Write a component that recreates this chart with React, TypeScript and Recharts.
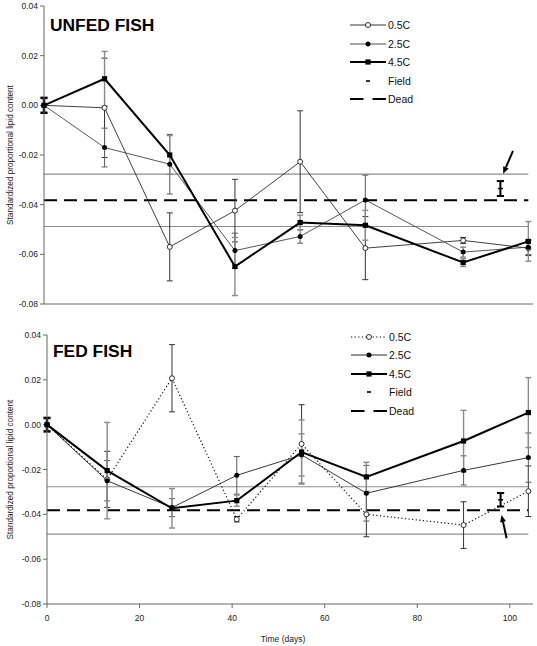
import React from 'react';
import { ComposedChart, Line, Scatter, XAxis, YAxis, ErrorBar, ReferenceLine, Legend } from 'recharts';

const days = [0, 13, 27, 41, 55, 69, 90, 104];

// unfed fish
const unfed05 = [0, -0.001, -0.057, -0.0424, -0.0227, -0.0575, -0.0544, -0.0575];
const unfed05Err = [0, 0.02, 0.0137, 0.0126, 0.0205, 0.0127, 0.0012, 0.003];
const unfed25 = [0, -0.017, -0.0237, -0.0585, -0.0528, -0.0381, -0.0591, -0.0571];
const unfed25Err = [0, 0.0078, 0.012, 0.007, 0.0027, 0.01, 0.002, 0.003];
const unfed45 = [0, 0.0107, -0.02, -0.0649, -0.0472, -0.0483, -0.0633, -0.0548];
const unfed45Err = [0, 0.011, 0.0078, 0.0117, 0.003, 0.006, 0.0016, 0.008];

// fed fish
const fed05 = [0, -0.0244, 0.0207, -0.0422, -0.0086, -0.04, -0.0448, -0.0297];
const fed05Err = [0, 0.0125, 0.015, 0.0012, 0.0175, 0.01, 0.0104, 0.0113];
const fed25 = [0, -0.025, -0.037, -0.0226, -0.0135, -0.0306, -0.0204, -0.0147];
const fed25Err = [0, 0.009, 0.004, 0.0084, 0.0094, 0.0124, 0.0065, 0.011];
const fed45 = [0, -0.0205, -0.0373, -0.0339, -0.0122, -0.0233, -0.0073, 0.0054];
const fed45Err = [0, 0.0215, 0.0088, 0.0025, 0.0143, 0.0065, 0.0137, 0.0156];

// field sample, start value, dead fish band
const fieldDay = [98];
const fieldMean = [-0.0335];
const fieldErr = [0.003];
const startErr = [0.003];
const deadMean = -0.0382;
const deadUpper = -0.0277;
const deadLower = -0.0488;
const lastDay = 104;

const unfedArrow = [{ x: 100.7, y: -0.0183 }, { x: 98.6, y: -0.0276 }];
const fedArrow = [{ x: 99.3, y: -0.0507 }, { x: 98.2, y: -0.0403 }];

const xTicks = [0, 20, 40, 60, 80, 100];
const yTicks = [-0.08, -0.06, -0.04, -0.02, 0, 0.02, 0.04];

const font = "'Liberation Sans', Arial, sans-serif";

const makeRows = (a: number[], ae: number[], b: number[], be: number[], c: number[], ce: number[]) =>
  days.map((day, i) => ({ day, c05: a[i], c05e: ae[i], c25: b[i], c25e: be[i], c45: c[i], c45e: ce[i] }));

const unfedRows = makeRows(unfed05, unfed05Err, unfed25, unfed25Err, unfed45, unfed45Err);
const fedRows = makeRows(fed05, fed05Err, fed25, fed25Err, fed45, fed45Err);
const fieldRows = fieldDay.map((day, i) => ({ day, v: fieldMean[i], e: fieldErr[i] }));
const startRows = [{ day: 0, v: 0, e: startErr[0] }];

const Square = (p: any) => {
  if (p.cx == null || p.cy == null) return <g key={p.key} />;
  return <rect key={p.key} x={p.cx - 2.6} y={p.cy - 2.6} width={5.2} height={5.2} fill="#000" />;
};

const Dash = (p: any) => (
  <line x1={p.cx - 2.5} x2={p.cx + 2.5} y1={p.cy} y2={p.cy} stroke="#000" strokeWidth={1.5} />
);

const Empty = () => <g />;

const Arrow = (p: any) => {
  const { x1, y1, x2, y2 } = p;
  const ang = Math.atan2(y2 - y1, x2 - x1);
  const L = 7;
  const W = 3;
  const bx = x2 - L * Math.cos(ang);
  const by = y2 - L * Math.sin(ang);
  const pts = `${x2},${y2} ${bx + W * Math.sin(ang)},${by - W * Math.cos(ang)} ${bx - W * Math.sin(ang)},${by + W * Math.cos(ang)}`;
  return (
    <g>
      <line x1={x1} y1={y1} x2={bx} y2={by} stroke="#000" strokeWidth={2} />
      <polygon points={pts} fill="#000" />
    </g>
  );
};

type Sample = { label: string; kind: 'open' | 'dot' | 'square' | 'field' | 'dead'; stroke?: string; width?: number; dash?: string };

const LegendBox = ({ items }: { items: Sample[] }) => (
  <div style={{ fontFamily: font, fontSize: 10.5, color: '#111' }}>
    {items.map((it) => (
      <div key={it.label} style={{ display: 'flex', alignItems: 'center', height: 18.6 }}>
        <svg width={36} height={10} style={{ display: 'block' }}>
          {it.kind === 'field' && <line x1={16} x2={20} y1={5} y2={5} stroke="#000" strokeWidth={1.6} />}
          {it.kind === 'dead' && <line x1={0} x2={36} y1={5} y2={5} stroke="#000" strokeWidth={2} strokeDasharray="13.5 9" />}
          {it.kind !== 'field' && it.kind !== 'dead' && (
            <line x1={0} x2={36} y1={5} y2={5} stroke={it.stroke} strokeWidth={it.width} strokeDasharray={it.dash} />
          )}
          {it.kind === 'open' && <circle cx={18} cy={5} r={2.5} fill="#fff" stroke="#000" strokeWidth={0.8} />}
          {it.kind === 'dot' && <circle cx={18} cy={5} r={2.5} fill="#000" />}
          {it.kind === 'square' && <rect x={15.4} y={2.4} width={5.2} height={5.2} fill="#000" />}
        </svg>
        <span style={{ marginLeft: 2 }}>{it.label}</span>
      </div>
    ))}
  </div>
);

type PanelProps = {
  title: string;
  rows: any[];
  height: number;
  top: number;
  axisWidth: number;
  xAxisHeight: number;
  showXLabels: boolean;
  dotted05: boolean;
  arrow: { x: number; y: number }[];
  legendTop: number;
  legendLeft: number;
  titleTop: number;
  titleLeft: number;
  labelDx: number;
};

const Panel = (p: PanelProps) => {
  const items: Sample[] = [
    { label: '0.5C', kind: 'open', stroke: '#000', width: p.dotted05 ? 1.2 : 0.8, dash: p.dotted05 ? '1.2 2.4' : undefined },
    { label: '2.5C', kind: 'dot', stroke: p.dotted05 ? '#111' : '#888', width: p.dotted05 ? 0.9 : 1.4 },
    { label: '4.5C', kind: 'square', stroke: '#000', width: 2 },
    { label: 'Field', kind: 'field' },
    { label: 'Dead', kind: 'dead' },
  ];
  return (
    <div style={{ position: 'absolute', left: 0, top: p.top, width: 537, height: p.height }}>
      <ComposedChart width={537} height={p.height} data={p.rows} margin={{ top: p.top === 0 ? 6 : 15, right: 4, left: 0, bottom: 0 }}>
        <XAxis
          dataKey="day"
          type="number"
          domain={[0, 105]}
          ticks={xTicks}
          height={p.xAxisHeight}
          tick={p.showXLabels ? { fontSize: 8.5, fill: '#222', fontFamily: font } : false}
          tickSize={4}
          tickMargin={7}
          stroke="#666"
          label={p.showXLabels ? { value: 'Time (days)', position: 'insideBottom', offset: 4, dx: -7, style: { fontSize: 8.5, fill: '#222', fontFamily: font } } : undefined}
        />
        <YAxis
          type="number"
          domain={[-0.08, 0.04]}
          ticks={yTicks}
          width={p.axisWidth}
          tickFormatter={(v: number) => v.toFixed(2)}
          tick={{ fontSize: 8.5, fill: '#222', fontFamily: font }}
          tickSize={4}
          tickMargin={2}
          stroke="#666"
          label={{
            value: 'Standardized proportional lipid content',
            angle: -90,
            position: 'center',
            dx: p.labelDx,
            style: { fontSize: 8.2, fill: '#222', fontFamily: font, textAnchor: 'middle' },
          }}
        />
        <ReferenceLine segment={[{ x: 0, y: deadUpper }, { x: lastDay, y: deadUpper }]} stroke="#8c8c8c" strokeWidth={1.2} />
        <ReferenceLine segment={[{ x: 0, y: deadLower }, { x: lastDay, y: deadLower }]} stroke="#8c8c8c" strokeWidth={1.2} />
        <ReferenceLine segment={[{ x: 0, y: deadMean }, { x: lastDay, y: deadMean }]} stroke="#000" strokeWidth={2} strokeDasharray="13 7" />
        <Line
          dataKey="c05"
          type="linear"
          stroke="#111"
          strokeWidth={p.dotted05 ? 1.2 : 0.8}
          strokeDasharray={p.dotted05 ? '1.2 2.4' : undefined}
          dot={{ r: 2.5, fill: '#fff', stroke: '#000', strokeWidth: 0.8, strokeDasharray: '' }}
          isAnimationActive={false}
        >
          <ErrorBar dataKey="c05e" direction="y" width={3} stroke="#333" strokeWidth={1} />
        </Line>
        <Line
          dataKey="c25"
          type="linear"
          stroke={p.dotted05 ? '#222' : '#444'}
          strokeWidth={0.9}
          dot={{ r: 2.5, fill: '#000', stroke: '#000', strokeWidth: 0 }}
          isAnimationActive={false}
        >
          <ErrorBar dataKey="c25e" direction="y" width={3} stroke="#666" strokeWidth={1.1} />
        </Line>
        <Line dataKey="c45" type="linear" stroke="#000" strokeWidth={2} dot={Square} isAnimationActive={false}>
          <ErrorBar dataKey="c45e" direction="y" width={3} stroke="#8a8a8a" strokeWidth={1.4} />
        </Line>
        <Scatter data={startRows} dataKey="v" shape={Empty} isAnimationActive={false}>
          <ErrorBar dataKey="e" direction="y" width={3.6} stroke="#000" strokeWidth={2.5} />
        </Scatter>
        <Scatter data={fieldRows} dataKey="v" shape={Dash} isAnimationActive={false}>
          <ErrorBar dataKey="e" direction="y" width={3.6} stroke="#000" strokeWidth={2} />
        </Scatter>
        <ReferenceLine segment={p.arrow} shape={Arrow} ifOverflow="visible" />
        <Legend
          layout="vertical"
          align="center"
          verticalAlign="middle"
          content={() => <LegendBox items={items} />}
          wrapperStyle={{ top: p.legendTop, left: p.legendLeft, right: 'auto', bottom: 'auto', width: 90 }}
        />
      </ComposedChart>
      <div
        style={{
          position: 'absolute',
          left: p.titleLeft,
          top: p.titleTop,
          fontFamily: font,
          fontWeight: 'bold',
          fontSize: 17.4,
          lineHeight: 1,
          color: '#000',
          whiteSpace: 'nowrap',
        }}
      >
        {p.title}
      </div>
    </div>
  );
};

export default function App() {
  return (
    <div style={{ position: 'absolute', left: 0, top: 0, width: 537, height: 646, background: '#fff' }}>
      <Panel
        title="UNFED FISH"
        rows={unfedRows}
        height={320}
        top={0}
        axisWidth={44}
        xAxisHeight={16}
        showXLabels={false}
        dotted05={false}
        arrow={unfedArrow}
        legendTop={15.7}
        legendLeft={350}
        titleTop={17.2}
        titleLeft={50}
        labelDx={-12}
      />
      <Panel
        title="FED FISH"
        rows={fedRows}
        height={326}
        top={320}
        axisWidth={47}
        xAxisHeight={42}
        showXLabels={true}
        dotted05={true}
        arrow={fedArrow}
        legendTop={7.4}
        legendLeft={351}
        titleTop={22.9}
        titleLeft={53}
        labelDx={-13.5}
      />
    </div>
  );
}
